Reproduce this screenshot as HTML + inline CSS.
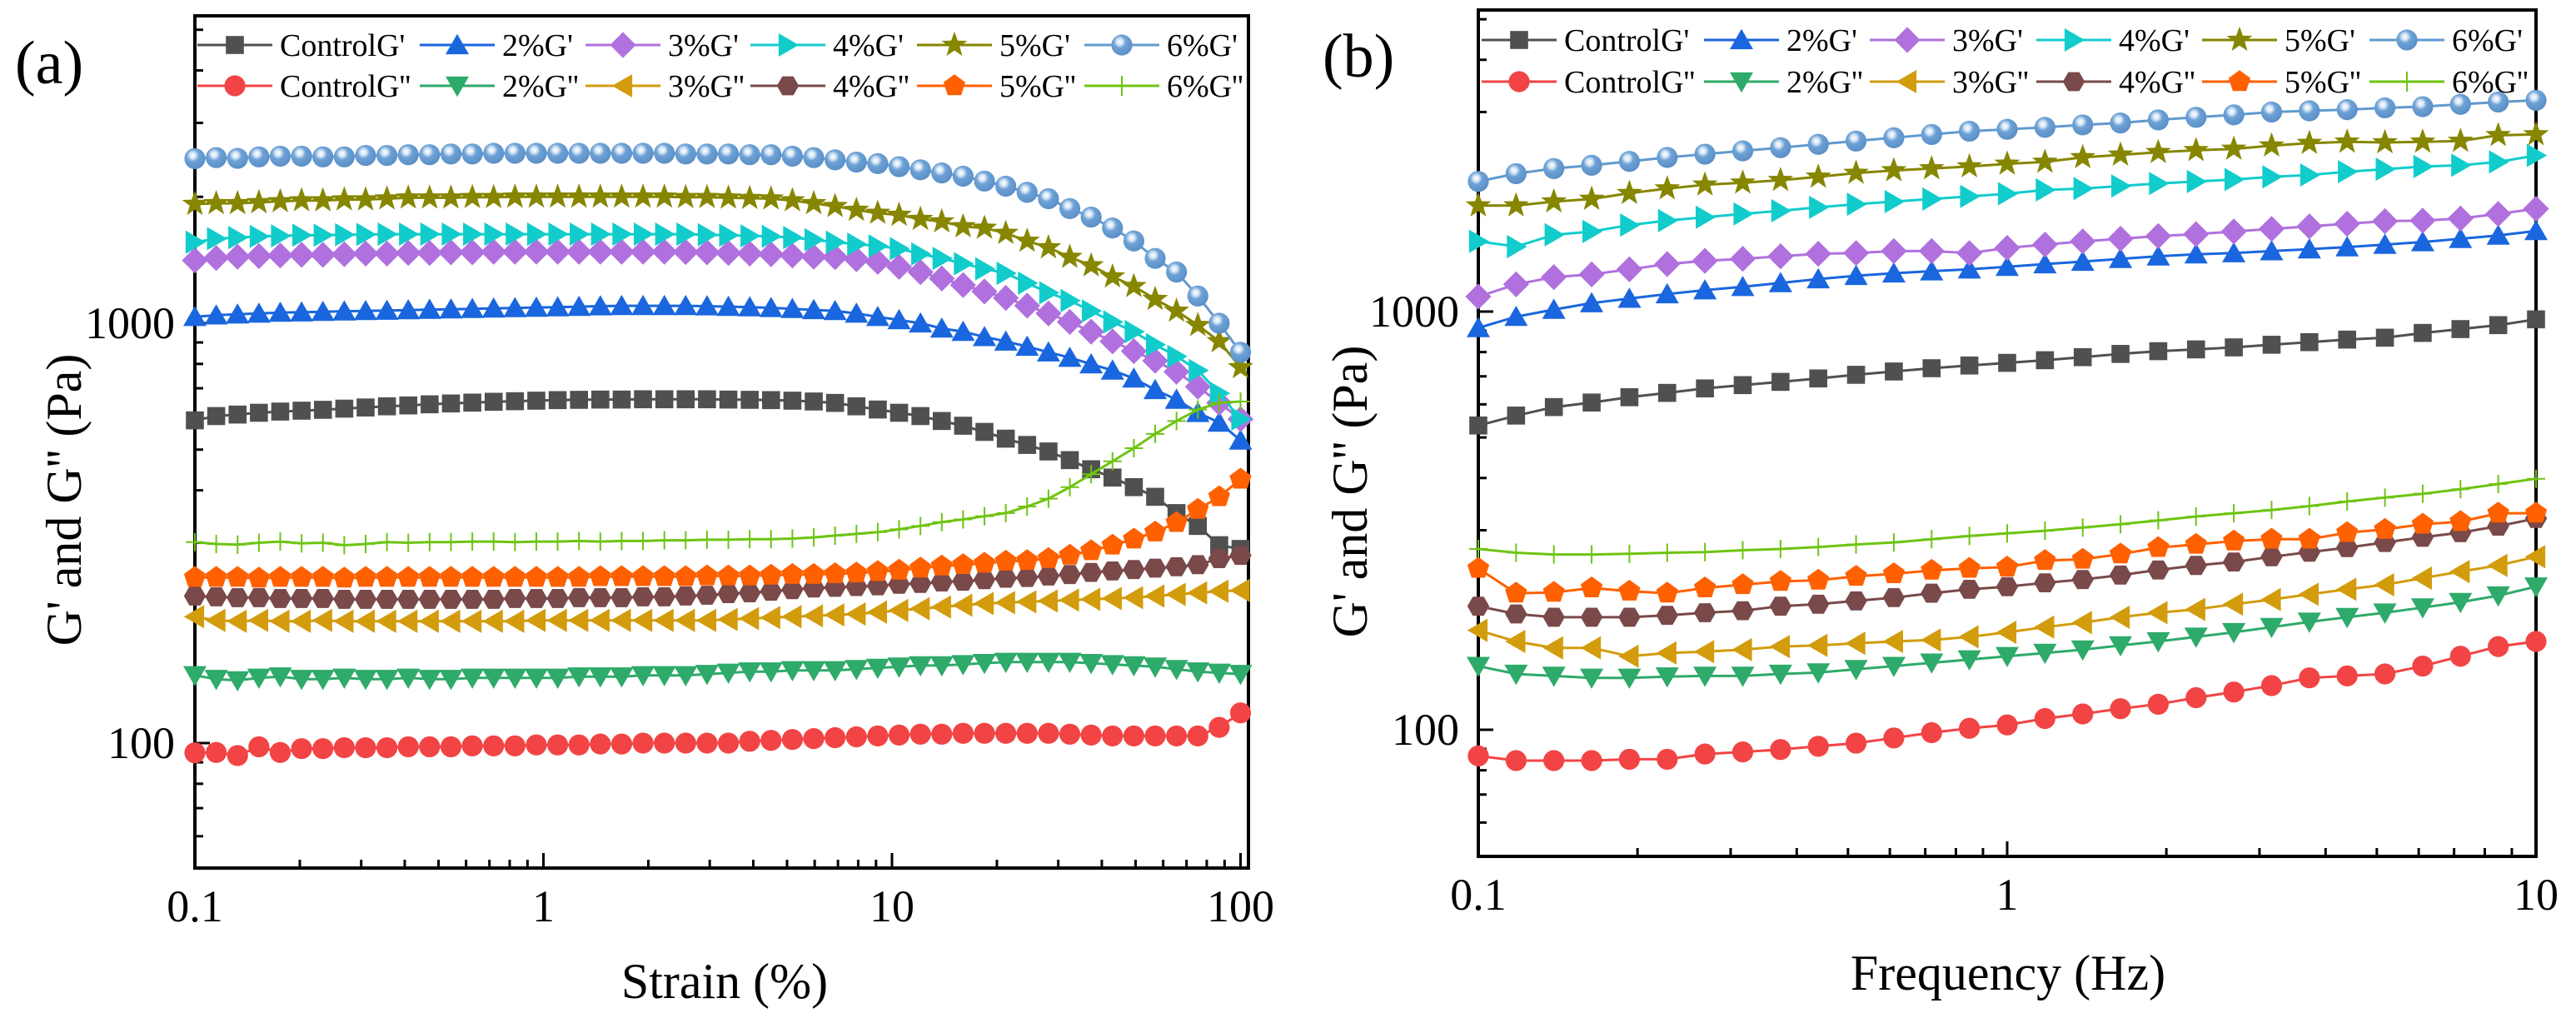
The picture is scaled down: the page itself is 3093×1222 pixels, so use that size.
<!DOCTYPE html>
<html><head><meta charset="utf-8">
<style>
html,body{margin:0;padding:0;background:#fff;}
svg{display:block;}
svg text{font-family:"Liberation Serif","Times New Roman",serif !important;fill:#000;}
</style></head>
<body>
<svg id="fig" width="3093" height="1222" viewBox="0 0 3093 1222" xmlns="http://www.w3.org/2000/svg" font-family="Liberation Serif, serif">
<defs>
<radialGradient id="ballGrad" cx="0.4" cy="0.35" r="0.65">
<stop offset="0" stop-color="#ffffff"/>
<stop offset="0.22" stop-color="#d6e6f6"/>
<stop offset="0.45" stop-color="#6ea2d6"/>
<stop offset="1" stop-color="#5a8fc6"/>
</radialGradient>
</defs>
</svg>
<script>
// ---------- Data: panel (a) strain sweep (50 points, 0.1 - 100 %) ----------
const strainCount = 50;
const a_ctrlGp = [587,601,606,612,616,619,622,626,630,634,637,641,644,647,650,652,654,656,657,658,658,659,659,659,659,658,657,656,654,651,646,634,623,612,601,585,570,551,531,513,495,472,449,429,407,386,353,329,296,290];
const a_2Gp = [1036,1045,1050,1055,1060,1062,1065,1068,1070,1072,1075,1078,1080,1082,1085,1087,1090,1092,1095,1098,1100,1100,1100,1100,1098,1095,1092,1088,1082,1076,1070,1055,1036,1018,1000,972,955,928,905,880,853,828,799,772,739,694,658,612,580,526];
const a_3Gp = [1411,1430,1440,1445,1450,1455,1455,1460,1465,1465,1470,1470,1475,1475,1480,1480,1480,1480,1480,1480,1480,1480,1480,1478,1475,1470,1465,1460,1450,1440,1437,1420,1400,1362,1324,1278,1233,1190,1149,1101,1055,1007,955,905,858,814,766,706,646,591];
const a_4Gp = [1559,1590,1600,1610,1615,1620,1620,1625,1627,1630,1630,1630,1630,1630,1630,1630,1630,1630,1630,1630,1630,1630,1630,1630,1625,1620,1615,1610,1600,1580,1560,1543,1527,1505,1462,1427,1386,1348,1315,1246,1182,1132,1070,1007,955,889,834,772,681,591];
const a_5Gp = [1922,1930,1930,1940,1950,1960,1960,1970,1970,1980,1990,1990,1990,1995,1995,2000,2000,2000,2000,2000,2000,2000,2000,1995,1995,1990,1985,1980,1960,1930,1900,1860,1830,1810,1770,1746,1700,1686,1639,1570,1515,1437,1372,1291,1225,1141,1070,989,905,785];
const a_6Gp = [2466,2480,2470,2490,2500,2500,2490,2490,2510,2510,2520,2520,2530,2530,2540,2540,2540,2540,2540,2540,2540,2540,2540,2530,2530,2530,2520,2520,2500,2480,2450,2420,2400,2360,2320,2280,2240,2180,2120,2050,1980,1875,1790,1686,1570,1427,1324,1161,1000,853];
const a_ctrlGpp = [94.8,95,93.4,98,95,97,97,97.5,97.5,97.5,98,98,98,98.5,98.5,98.5,99,99,99,99.5,99.5,100,100,100,100,100,101,101.5,102,102.5,103,103.5,104,104.5,105,105,105.5,105.5,105.5,105.5,105.5,105,104.5,104,104,104,104,104,109,118];
const a_2Gpp = [145,142,141,143,144,142,142,143,142,142,143,142,142,143,143,143,143,143,144,144,144,145,145,145,146,147,148,148,149,149,149,150,151,152,153,153,154,155,156,156,156,156,155,154,153,152,150,148,147,146];
const a_3Gpp = [200,196,195,196,195,195,196,195,195,195,195,195,195,195,195,195,196,196,196,196,196,196,196,196,196,197,198,199,200,201,202,203,205,207,209,211,213,215,216,217,218,219,220,221,222,224,226,228,230,231];
const a_4Gpp = [224,223,222,222,221,221,221,220,220,220,220,220,220,220,220,221,221,221,222,222,222,223,223,224,225,227,228,230,232,234,235,236,237,239,240,242,243,245,247,248,250,252,255,257,259,261,263,266,275,280];
const a_5Gpp = [248,248,248,247,248,248,248,247,248,248,248,248,248,248,248,248,248,248,248,249,249,249,249,249,250,250,250,251,252,252,253,254,256,258,261,264,266,268,271,272,275,280,287,296,306,318,335,360,386,425];
const a_6Gpp = [301,298,297,300,302,299,300,296,298,301,300,301,301,302,302,301,302,302,303,302,303,303,304,304,305,305,306,306,307,309,312,315,318,323,329,336,341,347,353,366,382,407,437,469,504,545,585,623,646,651];

// ---------- Data: panel (b) frequency sweep (29 points, 0.1 - 10 Hz) ----------
const freqCount = 29;
const b_ctrlGp = [534,564,591,606,624,639,655,667,679,692,706,719,732,743,754,765,778,792,804,812,821,833,845,857,866,889,908,928,958];
const b_2Gp = [914,972,1011,1048,1074,1101,1125,1146,1171,1196,1218,1235,1249,1262,1280,1299,1317,1337,1356,1371,1380,1395,1410,1426,1446,1467,1493,1521,1559];
const b_3Gp = [1086,1162,1209,1227,1262,1299,1322,1337,1356,1375,1380,1395,1395,1380,1420,1446,1472,1493,1515,1531,1554,1576,1599,1622,1645,1650,1669,1712,1761];
const b_4Gp = [1472,1430,1526,1554,1610,1650,1681,1712,1742,1775,1806,1832,1858,1885,1913,1954,1968,1996,2024,2046,2069,2099,2121,2160,2190,2222,2238,2279,2362];
const b_5Gp = [1792,1792,1832,1858,1919,1968,2010,2032,2061,2099,2144,2175,2198,2222,2255,2279,2337,2370,2404,2430,2448,2492,2528,2546,2537,2546,2557,2639,2651];
const b_6Gp = [2047,2137,2198,2238,2286,2336,2379,2422,2466,2511,2557,2604,2651,2700,2728,2757,2795,2825,2873,2914,2954,3000,3020,3040,3070,3090,3130,3170,3200];
const b_ctrlGpp = [86.6,84.4,84.4,84.4,85.0,85.0,87.5,88.5,89.7,91.3,92.9,95.6,98.4,100.8,102.7,106.4,109.1,112.3,115.1,119.3,123.1,127.5,133.1,134.5,136.0,142.0,149.9,158.1,162.6];
const b_2Gpp = [142.0,136.0,134.5,133.1,133.1,134.0,134.5,134.5,136.0,137.0,139.5,142.0,144.6,147.2,149.9,152.6,155.4,159.1,162.6,166.8,171.0,176.0,181.1,185.8,190.5,196.0,201.8,209.3,219.9];
const b_3Gpp = [172.9,162.6,157.0,157.0,149.9,152.6,153.7,155.4,158.1,159.1,161.0,162.6,163.9,166.8,171.0,176.0,180.4,185.8,190.5,194.0,199.6,204.8,210.8,216.7,222.2,230.4,238.9,247.1,259.3];
const b_4Gpp = [197.5,189.2,185.8,185.8,185.8,187.8,190.5,192.6,197.5,199.6,203.3,207.0,212.1,216.7,219.9,224.6,228.7,234.3,241.1,247.1,251.9,259.3,265.9,272.6,280.5,288.6,296.0,306.8,320.1];
const b_5Gpp = [243.1,212.1,213.0,218.3,214.4,212.1,218.3,222.2,226.2,227.8,232.7,236.0,240.5,243.1,244.8,253.8,255.6,263.0,272.6,277.5,282.6,285.5,285.5,296.0,301.3,310.0,314.5,329.4,329.4];
const b_6Gpp = [270.6,265.0,262.5,262.5,263.5,265.0,266.0,268.7,270.6,273.5,277.4,280.5,285.5,290.7,294.9,299.1,304.5,310.0,316.7,323.6,329.4,335.4,342.7,351.4,359.0,366.8,376.1,387.0,398.3];

// ---------- Series styles ----------
const seriesNames = ["ControlG'","2%G'","3%G'","4%G'","5%G'","6%G'","ControlG''","2%G''","3%G''","4%G''","5%G''","6%G''"];
const seriesColors = ["#505050","#1a66de","#b071de","#12cccc","#868600","#6199cf","#f24444","#2eaa6a","#d29c0c","#7a4949","#ff6000","#6ec412"];
const seriesMarkers = ["square","triUp","diamond","triRight","star","ball","circle","triDown","triLeft","hexagon","pentagon","plus"];
const aSeries = [a_ctrlGp,a_2Gp,a_3Gp,a_4Gp,a_5Gp,a_6Gp,a_ctrlGpp,a_2Gpp,a_3Gpp,a_4Gpp,a_5Gpp,a_6Gpp];
const bSeries = [b_ctrlGp,b_2Gp,b_3Gp,b_4Gp,b_5Gp,b_6Gp,b_ctrlGpp,b_2Gpp,b_3Gpp,b_4Gpp,b_5Gpp,b_6Gpp];
const aXTicks = [0.1,1,10,100];
const aXTickLabels = ["0.1","1","10","100"];
const bXTicks = [0.1,1,10];
const bXTickLabels = ["0.1","1","10"];
const yTicks = [100,1000];
const yTickLabels = ["100","1000"];

const NS = "http://www.w3.org/2000/svg";
const FONT = '"Liberation Serif", serif';
const svg = document.getElementById('fig');
function el(tag, attrs, parent){
  const e = document.createElementNS(NS, tag);
  for (const k in attrs) e.setAttribute(k, attrs[k]);
  if (tag === 'text') e.setAttribute('font-family', FONT);
  (parent||svg).appendChild(e);
  return e;
}
function poly(cx,cy,n,r,rot){
  const p=[];
  for(let i=0;i<n;i++){const a=rot+i*2*Math.PI/n;p.push((cx+r*Math.cos(a)).toFixed(1)+","+(cy+r*Math.sin(a)).toFixed(1));}
  return p.join(" ");
}
function marker(g, type, cx, cy, color, s){
  let m;
  if(type==="square") m=el('rect',{x:cx-s*0.9,y:cy-s*0.9,width:s*1.8,height:s*1.8,fill:color},g);
  else if(type==="circle") m=el('circle',{cx:cx,cy:cy,r:s*1.05,fill:color},g);
  else if(type==="ball") m=el('circle',{cx:cx,cy:cy,r:s*1.05,fill:"url(#ballGrad)"},g);
  else if(type==="triUp") m=el('polygon',{points:poly(cx,cy+s*0.25,3,s*1.35,-Math.PI/2),fill:color},g);
  else if(type==="triDown") m=el('polygon',{points:poly(cx,cy-s*0.25,3,s*1.35,Math.PI/2),fill:color},g);
  else if(type==="triRight") m=el('polygon',{points:poly(cx-s*0.25,cy,3,s*1.35,0),fill:color},g);
  else if(type==="triLeft") m=el('polygon',{points:poly(cx+s*0.25,cy,3,s*1.35,Math.PI),fill:color},g);
  else if(type==="diamond") m=el('polygon',{points:poly(cx,cy,4,s*1.3,0),fill:color},g);
  else if(type==="hexagon") m=el('polygon',{points:poly(cx,cy,6,s*1.1,0),fill:color},g);
  else if(type==="pentagon") m=el('polygon',{points:poly(cx,cy,5,s*1.15,-Math.PI/2),fill:color},g);
  else if(type==="star"){
    const p=[];for(let i=0;i<10;i++){const r=i%2?s*0.55:s*1.35;const a=-Math.PI/2+i*Math.PI/5;p.push((cx+r*Math.cos(a)).toFixed(1)+","+(cy+r*Math.sin(a)).toFixed(1));}
    m=el('polygon',{points:p.join(" "),fill:color},g);
  }
  else if(type==="plus") m=el('path',{d:`M${cx-s},${cy}H${cx+s}M${cx},${cy-s}V${cy+s}`,stroke:color,'stroke-width':2,fill:'none'},g);
  return m;
}

function drawPanel(cfg){
  const P = el('g',{});
  
  
  const xPix = v => cfg.x0 + (Math.log10(v) - Math.log10(cfg.xMin)) * cfg.xDec;
  const yPix = v => cfg.y1000 - (Math.log10(v) - 3) * cfg.yDec;
  const ticks = el('g',{stroke:'#000','stroke-width':3},P);
  
  
  for(let d=1; d<=3; d++){
    for(let k=1;k<=9;k++){
      const v=k*Math.pow(10,d);
      const yy=yPix(v);
      if(yy<cfg.top+2||yy>cfg.bottom-2) continue;
      const len=(k===1)?18:10;
      el('line',{x1:cfg.x0,x2:cfg.x0+len,y1:yy,y2:yy},ticks);
    }
  }
  const xt = el('g',{stroke:'#000','stroke-width':3},P);
  
  
  for(let d=-1; d<=2; d++){
    for(let k=1;k<=9;k++){
      const v=k*Math.pow(10,d);
      const xx=xPix(v);
      if(xx<cfg.x0-1||xx>cfg.x1+1) continue;
      const len=(k===1)?18:10;
      el('line',{x1:xx,x2:xx,y1:cfg.bottom,y2:cfg.bottom-len},xt);
    }
  }
  const fr = el('rect',{x:cfg.x0,y:cfg.top,width:cfg.x1-cfg.x0,height:cfg.bottom-cfg.top,fill:'none',stroke:'#000','stroke-width':4},P);
  
  
  cfg.xTicks.forEach((v,i)=>{
    const t=el('text',{x:xPix(v),y:cfg.xLabelY,'font-size':54,'text-anchor':'middle'},P);
    t.textContent=cfg.xTickLabels[i];
    
    
  });
  yTicks.forEach((v,i)=>{
    const t=el('text',{x:cfg.yLabelX,y:yPix(v)+18,'font-size':54,'text-anchor':'end'},P);
    t.textContent=yTickLabels[i];
    
    
  });
  const xtit=el('text',{x:cfg.xTitleX,y:cfg.xTitleY,'font-size':60,'text-anchor':'middle'},P);
  xtit.textContent=cfg.xTitle;
  
  
  const ytit=el('text',{x:0,y:0,'font-size':60,'text-anchor':'middle',transform:`translate(${cfg.yTitleX},${cfg.yTitleY}) rotate(-90)`},P);
  ytit.textContent="G' and G'' (Pa)";
  
  
  const pl=el('text',{x:cfg.plX,y:cfg.plY,'font-size':74},P);
  pl.textContent=cfg.panelLabel;
  
  
  const n = cfg.count;
  const lx = Math.log10(cfg.xMin), hx = Math.log10(cfg.xMax);
  const xs = []; for(let i=0;i<n;i++) xs.push(Math.pow(10, lx + (hx-lx)*i/(n-1)));
  cfg.series.forEach((vals,si)=>{
    const g=el('g',{},P);
    
    
    const pts = vals.map((v,i)=>xPix(xs[i]).toFixed(1)+","+yPix(v).toFixed(1)).join(" ");
    const ln=el('polyline',{points:pts,fill:'none',stroke:seriesColors[si],'stroke-width':3},g);
    
    
    vals.forEach((v,i)=>{
      const m=marker(g,seriesMarkers[si],xPix(xs[i]),yPix(v),seriesColors[si],seriesMarkers[si]==='plus'?11:12);
      
      
    });
  });
  const lg=el('g',{},P);
  
  
  seriesNames.forEach((nm,si)=>{
    const col=si%6, row=Math.floor(si/6);
    const lxp=cfg.legX[col], lyp=cfg.legY[row];
    const e=el('g',{},lg);
    
    
    el('line',{x1:lxp,x2:lxp+90,y1:lyp,y2:lyp,stroke:seriesColors[si],'stroke-width':3},e);
    marker(e,seriesMarkers[si],lxp+45,lyp,seriesColors[si],12);
    const t=el('text',{x:lxp+99,y:lyp+13,'font-size':38},e);
    t.textContent=nm;
  });
}

drawPanel({name:'panel-a-strain-sweep', x0:234, x1:1499, top:19, bottom:1042, xMin:0.1, xMax:100, xDec:418.5,
  y1000:388, yDec:504, count:strainCount, series:aSeries, xTicks:aXTicks, xTickLabels:aXTickLabels,
  xLabelY:1106, yLabelX:210, xTitle:'Strain (%)', xTitleX:870, xTitleY:1198, yTitleX:97, yTitleY:600,
  panelLabel:'(a)', plX:18, plY:100, legX:[237,504,703,901,1101,1302], legY:[54,103]});
drawPanel({name:'panel-b-frequency-sweep', x0:1775, x1:3045, top:12, bottom:1028, xMin:0.1, xMax:10, xDec:635,
  y1000:374, yDec:502, count:freqCount, series:bSeries, xTicks:bXTicks, xTickLabels:bXTickLabels,
  xLabelY:1092, yLabelX:1752, xTitle:'Frequency (Hz)', xTitleX:2411, xTitleY:1188, yTitleX:1641, yTitleY:590,
  panelLabel:'(b)', plX:1588, plY:92, legX:[1779,2046,2245,2445,2644,2845], legY:[48,98]});
</script>
</body></html>
